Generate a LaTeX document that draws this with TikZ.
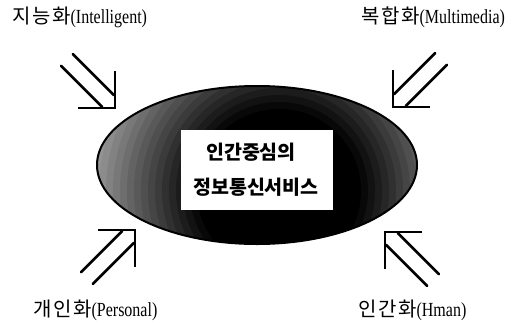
\documentclass[tikz,border=0pt]{standalone}
\usepackage{fontspec}
\usepackage{graphicx}
\setmainfont{Liberation Serif}
\newfontfamily\krlab[LetterSpace=8]{Noto Sans CJK KR}
\newfontfamily\krmain{Noto Sans CJK KR}
\usetikzlibrary{shapes.geometric}
\newcommand{\lab}[2]{{\krlab\fontsize{20}{22}\selectfont #1}\scalebox{0.8}[1]{\fontsize{20}{22}\selectfont #2}}
\tikzset{
  dblarr/.pic={
    \draw[line width=2.4pt] (-37,0) -- (0,0) -- (0,-37);
    \draw[line width=2.6pt, line cap=round] (-1.2,-12.9) -- (-42.2,-54);
    \draw[line width=2.6pt, line cap=round] (-12.9,-1.2) -- (-54,-42.2);
  },
  lbl/.style={anchor=west, inner sep=0pt},
  centretext/.style={font=\krmain\bfseries\fontsize{19.5}{22}\selectfont, inner sep=0pt}
}
\begin{document}
\begin{tikzpicture}[x=1pt,y=-1pt]
\useasboundingbox (0,0) rectangle (516,322);
\node[ellipse, draw, line width=2pt, minimum width=320pt, minimum height=158pt, inner sep=0pt, outer sep=0pt,
  path picture={
    \fill[black!42] (path picture bounding box.south west) rectangle (path picture bounding box.north east);
    \foreach \k in {0,...,16}{
      \pgfmathsetmacro\rr{180-7*\k}
      \pgfmathsetmacro\pc{min(100,45+4*\k)}
      \fill[black!\pc] ([xshift=22pt,yshift=-26pt]path picture bounding box.center) circle (\rr pt);
    }
  }] (core) at (257,165) {};
\node[fill=white, minimum width=152pt, minimum height=80pt, inner sep=0pt] (box) at (257,170) {};
\node[centretext] (l1) at (251,152) {인간중심의};
\node[centretext] (l2) at (256,187) {정보통신서비스};

\coordinate (tipA) at (115,108);
\coordinate (tipB) at (393,107);
\coordinate (tipC) at (135,230);
\coordinate (tipD) at (385,232);
\pic at (tipA) {dblarr};
\pic[xscale=-1] at (tipB) {dblarr};
\pic[yscale=-1] at (tipC) {dblarr};
\pic[rotate=180] at (tipD) {dblarr};

\node[lbl] (intel) at (12,17) {\lab{지능화}{(Intelligent)}};
\node[lbl] (multi) at (361,17) {\lab{복합화}{(Multimedia)}};
\node[lbl] (pers) at (33,310) {\lab{개인화}{(Personal)}};
\node[lbl] (human) at (358,310) {\lab{인간화}{(Hman)}};
\end{tikzpicture}
\end{document}
